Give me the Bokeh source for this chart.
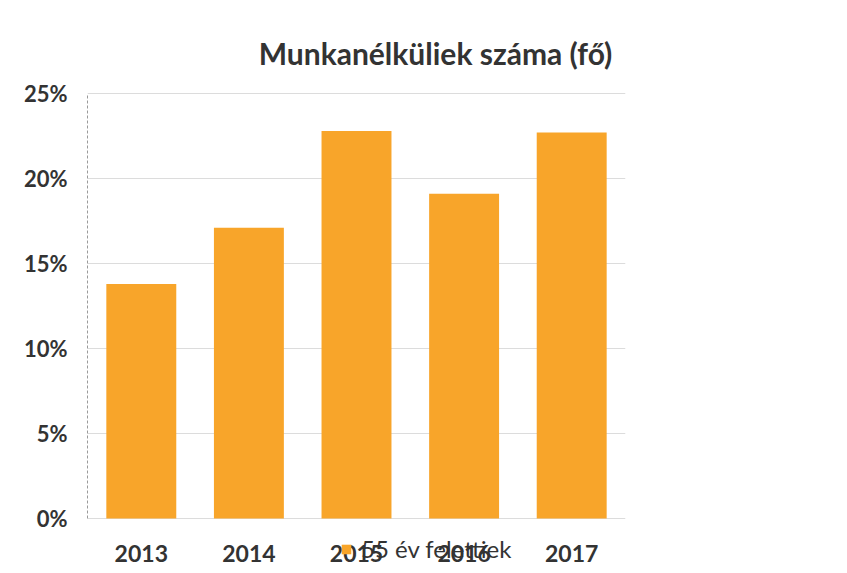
from bokeh.plotting import figure
from bokeh.models import (ColumnDataSource, FactorRange, Range1d, FixedTicker,
                          NumeralTickFormatter, Label, Legend, LegendItem)
from bokeh.core.properties import value
from bokeh.embed import file_html
from bokeh.resources import INLINE

years = ["2013", "2014", "2015", "2016", "2017"]
share_55plus = [0.138, 0.171, 0.228, 0.191, 0.227]
y_ticks = [0, 0.05, 0.10, 0.15, 0.20, 0.25]
series_name = "55 év felettiek"
title_text = "Munkanélküliek száma (fő)"

FONT = "Lato"
TXT = "#333333"
BAR = "#F8A52A"

W, H = 840, 572
LEFT, RIGHT, TOP0, BOT0 = 87, 625, 93, 518   # frame left/right, y of 25% and 0%
PX_PER_UNIT = (BOT0 - TOP0) / 0.25

src = ColumnDataSource(dict(year=years, val=share_55plus,
                            base=[0.0] * len(years)))

p = figure(width=W, height=H, x_range=FactorRange(*years, range_padding=0),
           y_range=Range1d(-(H - BOT0) / PX_PER_UNIT, 0.25 + TOP0 / PX_PER_UNIT),
           output_backend="svg", toolbar_location=None,
           min_border_left=LEFT, min_border_right=W - RIGHT, min_border_top=0,
           min_border_bottom=0)
p.outline_line_color = None
p.background_fill_color = "white"
p.border_fill_color = "white"

r = p.vbar(x="year", top="val", width=0.65, source=src, fill_color=BAR,
           line_color=None)

# year labels under the bars
p.text(x="year", y="base", text="year", source=src, y_offset=35,
       text_align="center", text_baseline="middle", text_font=value(FONT),
       text_font_style="bold", text_font_size="23px", text_color=TXT)

p.yaxis.ticker = FixedTicker(ticks=y_ticks)
p.yaxis.bounds = (0, 0.25)
p.yaxis.formatter = NumeralTickFormatter(format="0%")
p.yaxis.major_label_text_font = FONT
p.yaxis.major_label_text_font_style = "bold"
p.yaxis.major_label_text_font_size = "22px"
p.yaxis.major_label_text_color = TXT
p.yaxis.major_tick_line_color = None
p.yaxis.minor_tick_line_color = None
p.yaxis.axis_line_color = "#9a9a9a"
p.yaxis.axis_line_dash = "3 2"
p.yaxis.major_label_standoff = 14

p.xaxis.visible = False

p.xgrid.grid_line_color = None
p.ygrid.grid_line_color = "#dcdcdc"
p.ygrid.ticker = FixedTicker(ticks=y_ticks)

p.add_layout(Label(x=435 - LEFT, y=H - 52, x_units="screen", y_units="screen",
                   text=title_text, text_align="center", text_baseline="middle",
                   text_font=FONT, text_font_style="bold", text_font_size="30px",
                   text_color=TXT))

legend = Legend(items=[LegendItem(label=series_name, renderers=[r])],
                location=(253, 9), orientation="horizontal",
                label_text_font=FONT, label_text_font_size="24px",
                label_text_color=TXT, glyph_width=12, glyph_height=12,
                padding=0, margin=0, spacing=0, label_standoff=9,
                border_line_color=None, background_fill_alpha=0)
p.add_layout(legend, "center")

open("out.html", "w").write(file_html(p, INLINE))
